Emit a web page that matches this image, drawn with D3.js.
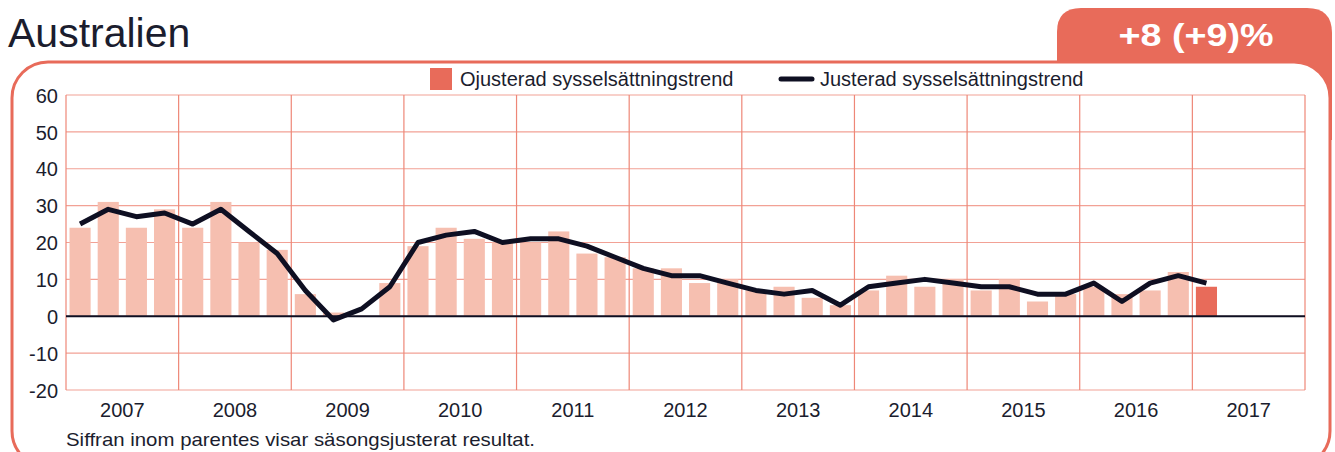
<!DOCTYPE html>
<html>
<head>
<meta charset="utf-8">
<script src="https://cdn.jsdelivr.net/npm/d3@7"></script>
<style>
  body { margin: 0; background: #fff; }
  text { font-family: "Liberation Sans", Arial, sans-serif; fill: #1b1d2e; }
</style>
</head>
<body>
<svg width="1335" height="452"></svg>
<script>
// quarterly values, 2007 Q1 .. 2017 Q1
const years = ["2007", "2008", "2009", "2010", "2011", "2012", "2013", "2014", "2015", "2016", "2017"];
const unadjusted = [
  24, 31, 24, 29,  24, 31, 20, 18,  6, 1, 0, 9,
  19, 24, 21, 20,  20, 23, 17, 16,  13, 13, 9, 10,
  7, 8, 5, 3,  7, 11, 8, 10,  7, 10, 4, 6,
  8, 6, 7, 12,  8
];
const adjusted = [
  25, 29, 27, 28,  25, 29, 23, 17,  7, -1, 2, 8,
  20, 22, 23, 20,  21, 21, 19, 16,  13, 11, 11, 9,
  7, 6, 7, 3,  8, 9, 10, 9,  8, 8, 6, 6,
  9, 4, 9, 11,  9
];
const yTicks = [-20, -10, 0, 10, 20, 30, 40, 50, 60];
const title = "Australien";
const badge = "+8 (+9)%";
const legendLabels = ["Ojusterad sysselsättningstrend", "Justerad sysselsättningstrend"];
const footnote = "Siffran inom parentes visar säsongsjusterat resultat.";

const red = "#e86b5a";
const barLight = "#f6bfb0";
const ink = "#0e0f22";

const svg = d3.select("svg");
const plotLeft = 66, plotRight = 1305, plotTop = 95, plotBottom = 390;

// frame: tab + rounded panel
svg.append("path")
  .attr("d", "M1057,60 L1057,32 Q1057,8 1081,8 L1307,8 Q1332,8 1332,33 L1332,140 L1057,140 Z")
  .attr("fill", red);
svg.append("rect")
  .attr("x", 12).attr("y", 62)
  .attr("width", 1318).attr("height", 405)
  .attr("rx", 36).attr("ry", 36)
  .attr("fill", "#fff")
  .attr("stroke", red).attr("stroke-width", 3);

svg.append("text")
  .attr("x", 8).attr("y", 47)
  .attr("font-size", 41)
  .text(title);

svg.append("text")
  .attr("x", 1196).attr("y", 46)
  .attr("text-anchor", "middle")
  .attr("font-size", 31).attr("font-weight", "bold")
  .attr("textLength", 155).attr("lengthAdjust", "spacingAndGlyphs")
  .style("fill", "#fff")
  .text(badge);

// scales
const quarters = d3.range(years.length * 4);
const x = d3.scaleBand().domain(quarters).range([plotLeft, plotRight]).paddingInner(0.25).paddingOuter(0.125);
const xYear = d3.scaleBand().domain(years).range([plotLeft, plotRight]);
const y = d3.scaleLinear().domain([-20, 60]).range([plotBottom, plotTop]);

// grid
svg.append("g").selectAll("line")
  .data(yTicks)
  .join("line")
  .attr("x1", plotLeft).attr("x2", plotRight)
  .attr("y1", d => y(d)).attr("y2", d => y(d))
  .attr("stroke", "#f2a195").attr("stroke-width", 1.2);

svg.append("g").selectAll("line")
  .data(years.concat(["end"]))
  .join("line")
  .attr("x1", (d, i) => plotLeft + i * xYear.bandwidth())
  .attr("x2", (d, i) => plotLeft + i * xYear.bandwidth())
  .attr("y1", plotTop).attr("y2", plotBottom)
  .attr("stroke", "#ee8777").attr("stroke-width", 1.2);

// bars
svg.append("g").selectAll("rect")
  .data(unadjusted)
  .join("rect")
  .attr("x", (d, i) => x(i))
  .attr("width", x.bandwidth())
  .attr("y", d => y(Math.max(0, d)))
  .attr("height", d => Math.abs(y(d) - y(0)))
  .attr("fill", (d, i) => i === unadjusted.length - 1 ? red : barLight);

// zero line
svg.append("line")
  .attr("x1", plotLeft).attr("x2", plotRight)
  .attr("y1", y(0)).attr("y2", y(0))
  .attr("stroke", ink).attr("stroke-width", 2.2);

// trend line
const line = d3.line()
  .x((d, i) => x(i) + x.bandwidth() / 2)
  .y(d => y(d));
svg.append("path")
  .datum(adjusted)
  .attr("d", line)
  .attr("fill", "none")
  .attr("stroke", ink)
  .attr("stroke-width", 5)
  .attr("stroke-linejoin", "round");

// axes
const yAxis = svg.append("g")
  .attr("transform", `translate(${plotLeft - 8},0)`)
  .call(d3.axisLeft(y).tickValues(yTicks).tickFormat(d => String(d)).tickSize(0).tickPadding(0));
yAxis.select(".domain").remove();
yAxis.selectAll("text").attr("font-size", 20).attr("font-family", null).attr("dy", "0.36em");

const xAxis = svg.append("g")
  .attr("transform", `translate(0,${plotBottom + 11})`)
  .call(d3.axisBottom(xYear).tickSize(0).tickPadding(0));
xAxis.select(".domain").remove();
xAxis.selectAll("text").attr("font-size", 20).attr("font-family", null).attr("dy", "0.8em");

// legend
const legend = svg.append("g");
legend.append("rect")
  .attr("x", 430).attr("y", 68).attr("width", 22).attr("height", 22)
  .attr("fill", red);
legend.append("text")
  .attr("x", 460).attr("y", 86).attr("font-size", 20)
  .text(legendLabels[0]);
legend.append("line")
  .attr("x1", 781).attr("x2", 812).attr("y1", 79).attr("y2", 79)
  .attr("stroke", ink).attr("stroke-width", 5).attr("stroke-linecap", "round");
legend.append("text")
  .attr("x", 820).attr("y", 86).attr("font-size", 20)
  .text(legendLabels[1]);

svg.append("text")
  .attr("x", 66).attr("y", 446).attr("font-size", 19)
  .attr("textLength", 469).attr("lengthAdjust", "spacingAndGlyphs")
  .text(footnote);
</script>
</body>
</html>
